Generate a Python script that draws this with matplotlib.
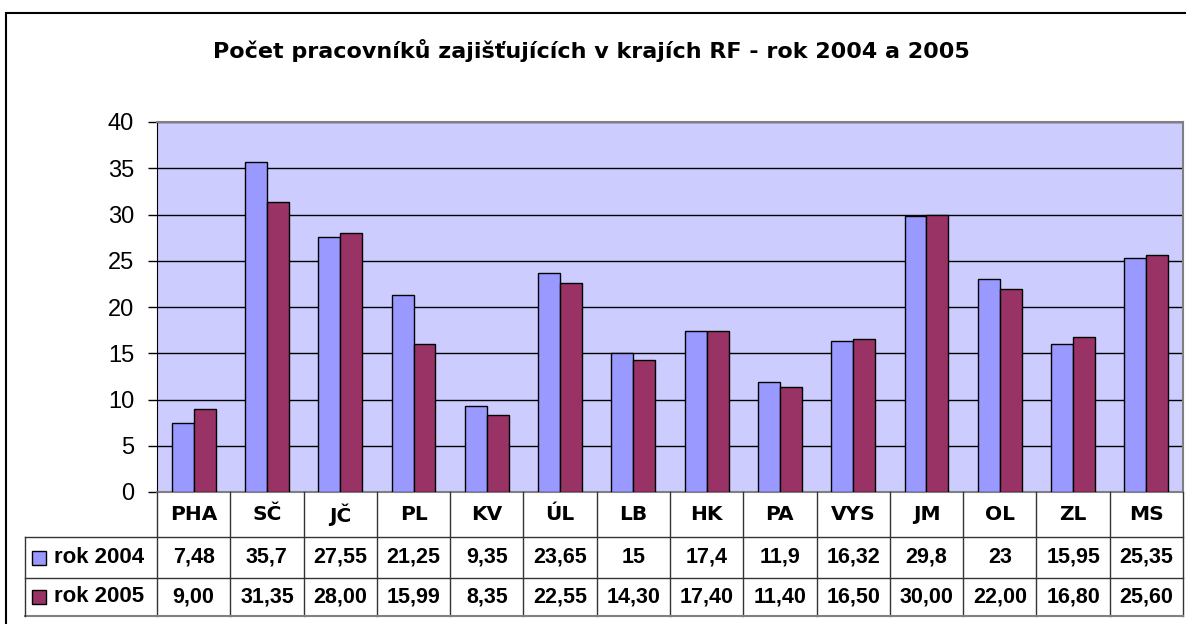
import matplotlib.pyplot as plt
from matplotlib.patches import Rectangle
from matplotlib.transforms import blended_transform_factory

plt.rcParams['font.family'] = ['Liberation Sans', 'DejaVu Sans']

kraje = ["PHA", "SČ", "JČ", "PL", "KV", "ÚL", "LB", "HK", "PA", "VYS", "JM", "OL", "ZL", "MS"]
rok_2004 = [7.48, 35.7, 27.55, 21.25, 9.35, 23.65, 15, 17.4, 11.9, 16.32, 29.8, 23, 15.95, 25.35]
rok_2005 = [9.00, 31.35, 28.00, 15.99, 8.35, 22.55, 14.30, 17.40, 11.40, 16.50, 30.00, 22.00, 16.80, 25.60]
popis_2004 = ["7,48", "35,7", "27,55", "21,25", "9,35", "23,65", "15", "17,4", "11,9", "16,32", "29,8", "23", "15,95", "25,35"]
popis_2005 = ["9,00", "31,35", "28,00", "15,99", "8,35", "22,55", "14,30", "17,40", "11,40", "16,50", "30,00", "22,00", "16,80", "25,60"]
serie = ["rok 2004", "rok 2005"]
barvy = ["#9999ff", "#993366"]

W, H = 1186, 624
fig = plt.figure(figsize=(W / 100, H / 100), dpi=100)


def fx(px):
    return px / W


def fy(py):
    return 1 - py / H


# plot area in pixels
left, right, top, bottom = 157, 1183, 122, 492
ax = fig.add_axes([fx(left), fy(bottom), fx(right - left), (bottom - top) / H])
ax.set_facecolor("#ccccff")

x = list(range(len(kraje)))
w = 0.3
ax.bar([i - w / 2 for i in x], rok_2004, width=w, color=barvy[0], edgecolor="black", linewidth=1, zorder=3)
ax.bar([i + w / 2 for i in x], rok_2005, width=w, color=barvy[1], edgecolor="black", linewidth=1, zorder=3)

ax.set_xlim(-0.5, len(kraje) - 0.5)
ax.set_ylim(0, 40)
ax.set_yticks(range(0, 45, 5))
ax.yaxis.grid(True, color="black", linewidth=1, zorder=1)
ax.set_axisbelow(True)
ax.set_xticks([])
ax.tick_params(axis="y", length=6.5, width=1, labelsize=17, pad=10, direction="out")
for s in ["top", "right"]:
    ax.spines[s].set_color("#808080")
    ax.spines[s].set_linewidth(1.5)
ax.spines["left"].set_color("black")
ax.spines["bottom"].set_color("#808080")
ax.spines["bottom"].set_linewidth(1.5)

fig.text(fx(591), fy(50), "Počet pracovníků zajišťujících v krajích RF - rok 2004 a 2005",
         ha="center", va="center", fontsize=16, fontweight="bold", family="DejaVu Sans")

# data table under the axis
tr = blended_transform_factory(ax.transData, fig.transFigure)
r1, r2, r3 = 537, 578, 616
lc = "#333333"
for i in range(len(kraje) + 1):
    fig.add_artist(plt.Line2D([i - 0.5, i - 0.5], [fy(bottom), fy(r3)], transform=tr, color=lc, lw=1))
for yy in [r1, r2]:
    fig.add_artist(plt.Line2D([fx(25), fx(right)], [fy(yy), fy(yy)], transform=fig.transFigure, color=lc, lw=1))
fig.add_artist(plt.Line2D([fx(25), fx(right)], [fy(r3), fy(r3)], transform=fig.transFigure, color="#808080", lw=1.5))
fig.add_artist(plt.Line2D([fx(25), fx(25)], [fy(r1), fy(r3)], transform=fig.transFigure, color=lc, lw=1))

for i, k in enumerate(kraje):
    fig.text(i, fy((bottom + r1) / 2), k, transform=tr, ha="center", va="center", fontsize=14.5,
             fontweight="bold", family="DejaVu Sans")
    fig.text(i, fy((r1 + r2) / 2), popis_2004[i], transform=tr, ha="center", va="center", fontsize=15.5, fontweight="bold")
    fig.text(i, fy((r2 + r3) / 2), popis_2005[i], transform=tr, ha="center", va="center", fontsize=15.5, fontweight="bold")

for j, (nazev, c) in enumerate(zip(serie, barvy)):
    yc = (r1 + r2) / 2 if j == 0 else (r2 + r3) / 2
    fig.add_artist(Rectangle((fx(32), fy(yc + 7)), fx(14), 14 / H, transform=fig.transFigure,
                             facecolor=c, edgecolor="black", lw=1))
    fig.text(fx(54), fy(yc), nazev, ha="left", va="center", fontsize=16, fontweight="bold")

# outer chart border
fig.add_artist(Rectangle((fx(6), fy(640)), fx(1200), (640 - 13) / H, transform=fig.transFigure,
                         facecolor="none", edgecolor="black", lw=1.5))

fig.savefig("out.png", dpi=100)
